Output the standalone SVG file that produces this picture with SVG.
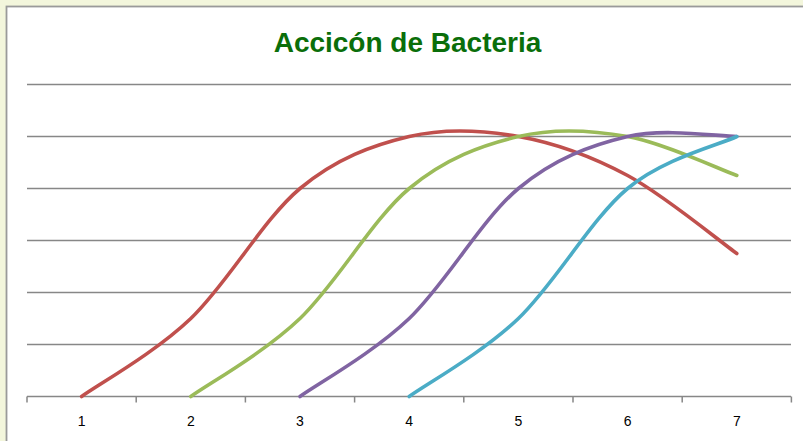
<svg xmlns="http://www.w3.org/2000/svg" width="803" height="441" viewBox="0 0 803 441">
<defs>
<style>
.grid{stroke:#878787;stroke-width:1.5;fill:none}
.tick{stroke:#878787;stroke-width:1.5;fill:none}
.series{fill:none;stroke-width:3.6;stroke-linecap:round;stroke-linejoin:round}
.lbl{font-family:"Liberation Sans",Arial,sans-serif;font-size:14px;fill:#000;text-anchor:middle}
.title{font-family:"Liberation Sans",Arial,sans-serif;font-size:28px;font-weight:bold;fill:#0a6e0a;text-anchor:middle}
</style>
</defs>
<rect x="0" y="0" width="803" height="441" fill="#f3f6dc"/>
<rect x="6.5" y="6.5" width="800" height="440" fill="#ffffff" stroke="#9a9a9a" stroke-width="1.8"/>
<text id="title" class="title" x="407.5" y="52">Accicón de Bacteria</text>
<g id="gridlines">
<line class="grid" x1="27" y1="84.5" x2="791" y2="84.5"/>
<line class="grid" x1="27" y1="136.5" x2="791" y2="136.5"/>
<line class="grid" x1="27" y1="188.5" x2="791" y2="188.5"/>
<line class="grid" x1="27" y1="240.5" x2="791" y2="240.5"/>
<line class="grid" x1="27" y1="292.5" x2="791" y2="292.5"/>
<line class="grid" x1="27" y1="344.5" x2="791" y2="344.5"/>
</g>
<g id="axis">
<line class="tick" x1="27" y1="396.5" x2="791" y2="396.5"/>
<path class="tick" d="M27,396.5V402.5M136.2,396.5V402.5M245.4,396.5V402.5M354.6,396.5V402.5M463.8,396.5V402.5M573,396.5V402.5M682.2,396.5V402.5M791.4,396.5V402.5"/>
<text class="lbl" x="81.6" y="426">1</text>
<text class="lbl" x="190.8" y="426">2</text>
<text class="lbl" x="300" y="426">3</text>
<text class="lbl" x="409.2" y="426">4</text>
<text class="lbl" x="518.4" y="426">5</text>
<text class="lbl" x="627.6" y="426">6</text>
<text class="lbl" x="736.8" y="426">7</text>
</g>
<g id="connectors">
<path id="series1" class="series" stroke="#c0504d" d="M81.6,396.5 C99.8,383.5 154.4,353.17 190.8,318.5 C227.2,283.83 263.6,218.83 300,188.5 C336.4,158.17 372.8,145.17 409.2,136.5 C445.6,127.83 482,130 518.4,136.5 C554.8,143 591.2,156 627.6,175.5 C664,195 718.6,240.5 736.8,253.5"/>
<path id="series2" class="series" stroke="#9bbb59" d="M190.8,396.5 C209,383.5 263.6,353.17 300,318.5 C336.4,283.83 372.8,218.83 409.2,188.5 C445.6,158.17 482,145.17 518.4,136.5 C554.8,127.83 591.2,130 627.6,136.5 C664,143 718.6,169 736.8,175.5"/>
<path id="series3" class="series" stroke="#8064a2" d="M300,396.5 C318.2,383.5 372.8,353.17 409.2,318.5 C445.6,283.83 482,218.83 518.4,188.5 C554.8,158.17 591.2,145.17 627.6,136.5 C664,127.83 718.6,136.5 736.8,136.5"/>
<path id="series4" class="series" stroke="#4bacc6" d="M409.2,396.5 C427.4,383.5 482,353.17 518.4,318.5 C554.8,283.83 591.2,218.83 627.6,188.5 C664,158.17 718.6,145.17 736.8,136.5"/>
</g>
</svg>
